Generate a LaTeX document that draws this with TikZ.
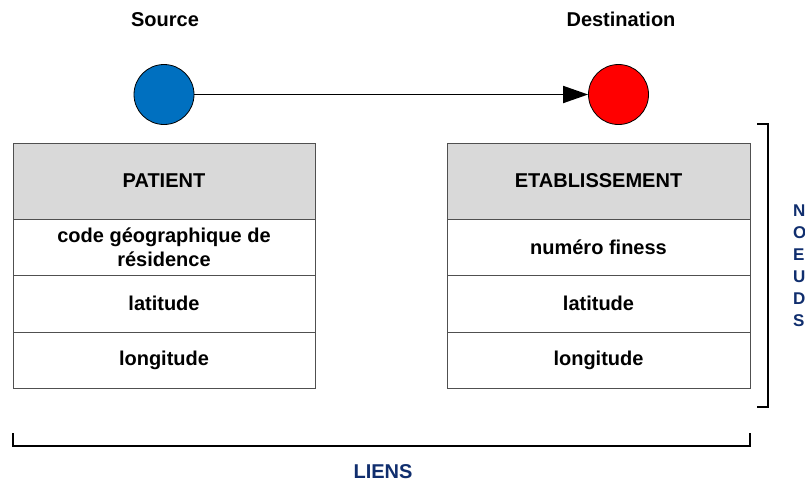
\documentclass[tikz,border=0pt]{standalone}
\usepackage{fontspec}
\setmainfont{Liberation Sans}
\usetikzlibrary{arrows.meta, positioning}
\definecolor{srcblue}{HTML}{0070C0}
\definecolor{dstred}{HTML}{FF0000}
\definecolor{hdrgray}{HTML}{D9D9D9}
\definecolor{lblnavy}{HTML}{102E6E}
\definecolor{cellline}{HTML}{505050}

\begin{document}
\begin{tikzpicture}[x=1pt, y=-1pt,
  endpt/.style={circle, draw=black, line width=0.8pt, minimum size=60pt,
    inner sep=0pt},
  hdrcell/.style={rectangle, draw=cellline, fill=hdrgray, line width=0.8pt,
    minimum width=302pt, minimum height=76pt, inner sep=0pt, outer sep=0pt,
    font=\fontsize{20}{23}\selectfont\bfseries},
  cell/.style={rectangle, draw=cellline, fill=white, line width=0.8pt,
    minimum width=302pt, minimum height=56.5pt, inner sep=0pt, outer sep=0pt,
    align=center, font=\fontsize{20}{24}\selectfont\bfseries},
  toplbl/.style={anchor=base, inner sep=0pt,
    font=\fontsize{20}{24}\selectfont\bfseries},
  sidelbl/.style={anchor=west, inner sep=0pt, align=left, text=lblnavy,
    font=\fontsize{17}{22}\selectfont\bfseries},
  bracket/.style={line width=1.5pt, draw=black}
]
  \useasboundingbox (0,0) rectangle (805,483);

  % source and destination
  \node[toplbl] (srclbl) at (165,26) {Source};
  \node[toplbl] (dstlbl) at (621,26) {Destination};
  \node[endpt, fill=srcblue] (src) at (164,94.5) {};
  \node[endpt, fill=dstred]  (dst) at (618.5,94.5) {};
  \draw[-{Triangle[length=25pt, width=17pt]}, line width=1.8pt] (src) -- (dst);

  % tables
  \node[hdrcell] (patient) at (164,181) {PATIENT};
  \node[cell, below=0pt of patient] (pcode) {code géographique de\\résidence};
  \node[cell, below=0pt of pcode]   (plat)  {latitude};
  \node[cell, below=0pt of plat]    (plon)  {longitude};

  \node[hdrcell, minimum width=303pt] (etab) at (598.5,181) {ETABLISSEMENT};
  \node[cell, minimum width=303pt, below=0pt of etab]  (efin) {numéro finess};
  \node[cell, minimum width=303pt, below=0pt of efin]  (elat) {latitude};
  \node[cell, minimum width=303pt, below=0pt of elat]  (elon) {longitude};

  % brackets
  \draw[bracket] (757,124) -- (768,124) -- (768,407) -- (757,407);
  \node[sidelbl] (noeuds) at (793,265.5) {N\\O\\E\\U\\D\\S};
  \draw[bracket] (13,433) -- (13,446) -- (750,446) -- (750,433);
  \node[toplbl, text=lblnavy] (liens) at (383,478) {LIENS};
\end{tikzpicture}
\end{document}
